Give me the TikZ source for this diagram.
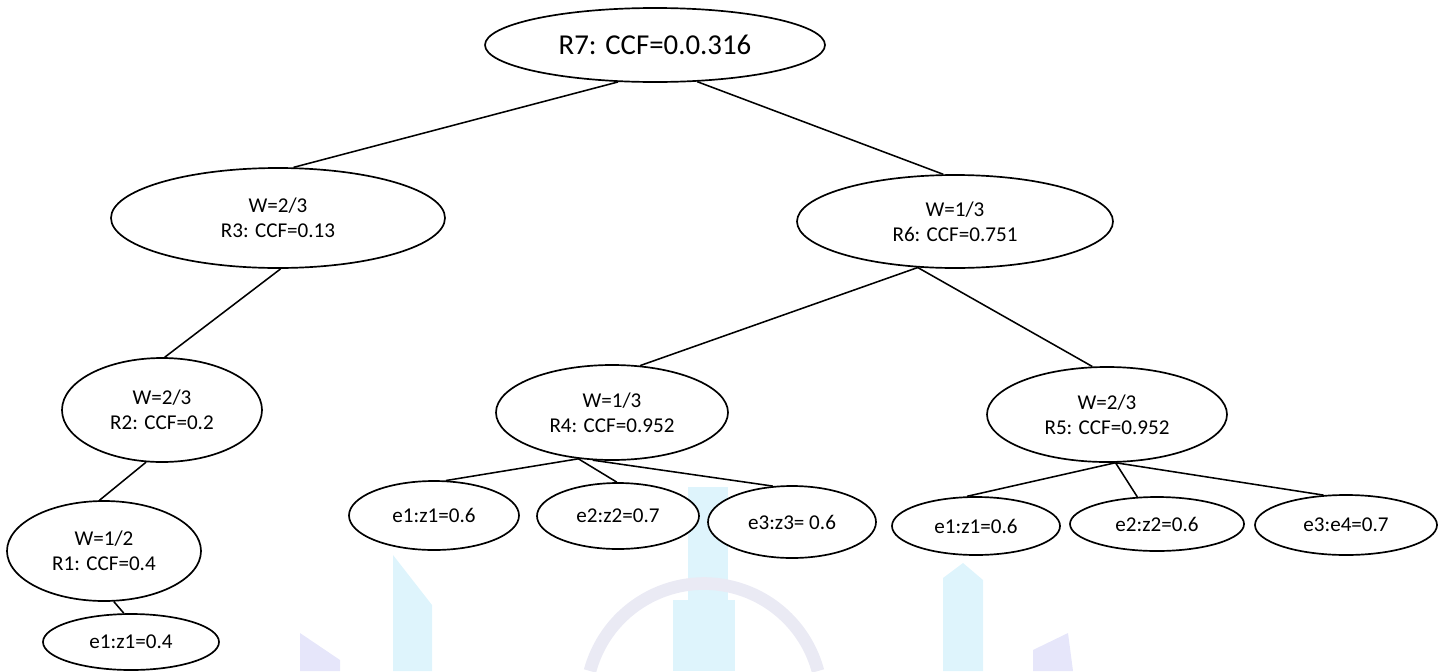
\documentclass[tikz,border=0pt]{standalone}
\usepackage{fontspec}
\setmainfont{Carlito}
\usetikzlibrary{shapes.geometric}
\definecolor{wmcyan}{RGB}{222,244,252}
\definecolor{wmlav}{RGB}{230,230,250}
\definecolor{wmarc}{RGB}{234,234,244}
\tikzset{
  el/.style 2 args={ellipse, draw=black, line width=1.2pt, fill=white,
    inner sep=0pt, align=center,
    minimum width=2*#1*0.025cm, minimum height=2*#2*0.025cm,
    font=\fontsize{15}{18}\selectfont},
  edge/.style={draw=black, line width=1.1pt},
  wm/.style={draw=none}
}
\begin{document}
\begin{tikzpicture}[x=0.025cm, y=-0.025cm]
\useasboundingbox (0,0) rectangle (1445,671);

% faint logo in the background
\fill[wmcyan, wm] (393,555) -- (432,605) -- (432,671) -- (393,671) -- cycle;
\fill[wmlav, wm] (300,633) -- (340,660) -- (340,671) -- (300,671) -- cycle;
\fill[wmcyan, wm] (688,487) rectangle (728,600);
\fill[wmcyan, wm] (673,600) rectangle (735,671);
\draw[wmarc, line width=9pt] (590,671) arc[start angle=195, end angle=345, radius=118];
\fill[wmcyan, wm] (943,578) -- (963,563) -- (983,580) -- (983,671) -- (943,671) -- cycle;
\fill[wmlav, wm] (1033,650) -- (1068,633) -- (1073,671) -- (1033,671) -- cycle;

% tree nodes
\node[el={170}{37}, font=\fontsize{20.5}{24}\selectfont] (R7) at (655,45) {R7: CCF=0.0.316};
\node[el={167}{50}] (R3) at (278,218) {W=2/3\\R3: CCF=0.13};
\node[el={158}{46.5}] (R6) at (955,221.5) {W=1/3\\R6: CCF=0.751};
\node[el={100}{52}] (R2) at (162,410) {W=2/3\\R2: CCF=0.2};
\node[el={97}{50}] (R1) at (104,551) {W=1/2\\R1: CCF=0.4};
\node[el={88}{28}] (E0) at (131,642) {e1:z1=0.4};
\node[el={116}{47.5}] (R4) at (612,412.5) {W=1/3\\R4: CCF=0.952};
\node[el={120}{47.5}] (R5) at (1107,414.5) {W=2/3\\R5: CCF=0.952};
\node[el={85}{34.5}] (A1) at (434,515.5) {e1:z1=0.6};
\node[el={81}{33}] (A2) at (618,516) {e2:z2=0.7};
\node[el={84}{36}] (A3) at (792,522) {e3:z3= 0.6};
\node[el={84}{29}] (B1) at (976,526) {e1:z1=0.6};
\node[el={87}{27}] (B2) at (1157,524) {e2:z2=0.6};
\node[el={91}{30}] (B3) at (1346,525) {e3:e4=0.7};

% connectors
\draw[edge] (R7.225) -- (R3.73);
\draw[edge] (R7.319) -- (R6.104);
\draw[edge] (R3.273) -- (R2.87);
\draw[edge] (R2.253) -- (R1.95);
\draw[edge] (R1.281) -- (E0.104);
\draw[edge] (R6.231) -- (R4.59);
\draw[edge] (R6.231) -- (R5.107);
\draw[edge] (R4.234) -- (A1.71);
\draw[edge] (R4.234) -- (A2.92);
\draw[edge] (R4.248) -- (A3.118);
\draw[edge] (R5.280) -- (B1.107);
\draw[edge] (R5.280) -- (B2.126);
\draw[edge] (R5.280) -- (B3.127);
\end{tikzpicture}
\end{document}
